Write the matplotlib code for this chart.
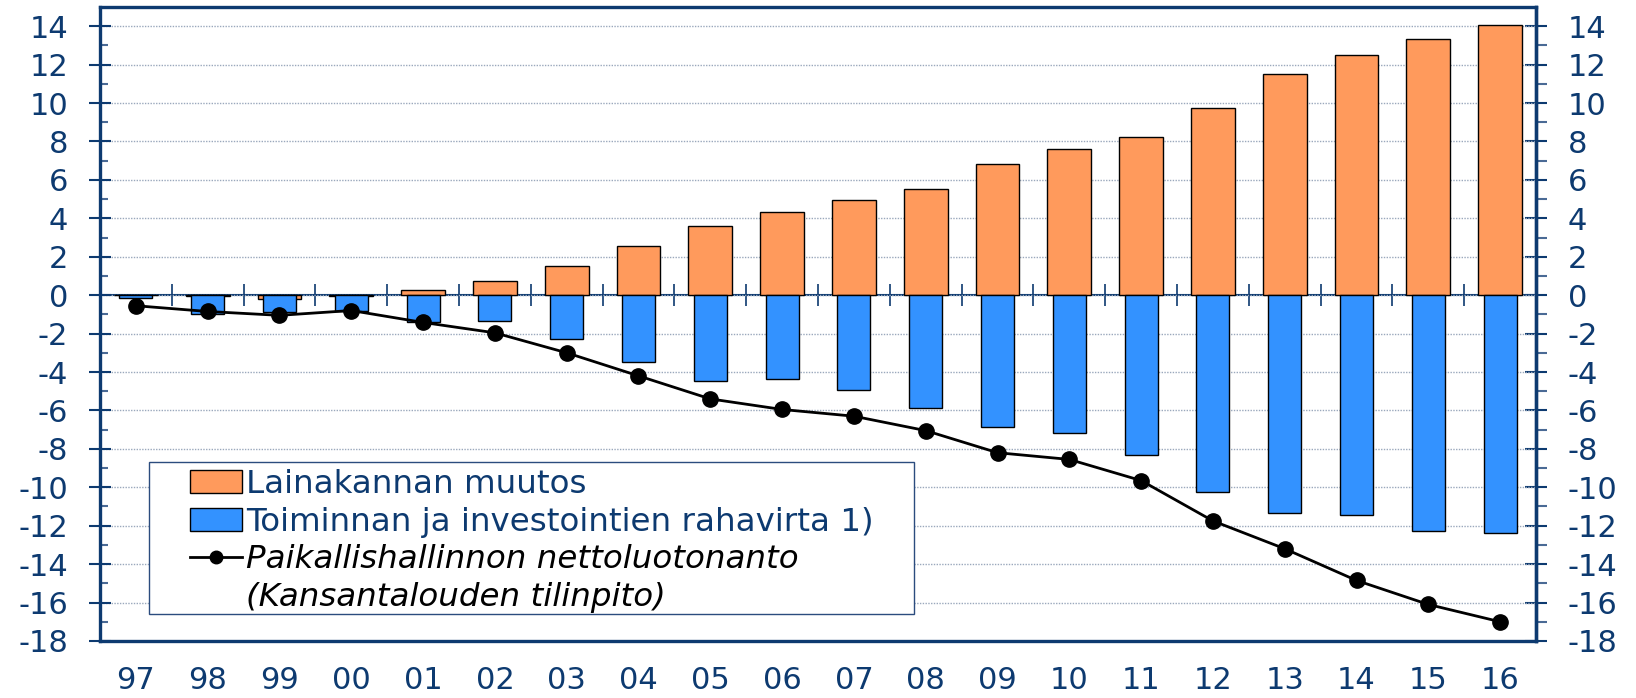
import numpy as np
import matplotlib.pyplot as plt
from matplotlib.patches import Rectangle, Patch
from matplotlib.lines import Line2D

plt.rcParams['axes.unicode_minus'] = False
plt.rcParams['font.family'] = 'DejaVu Sans'

years = ['97', '98', '99', '00', '01', '02', '03', '04', '05', '06',
         '07', '08', '09', '10', '11', '12', '13', '14', '15', '16']
lainakanta = [0.0, -0.05, -0.2, -0.05, 0.25, 0.75, 1.5, 2.55, 3.6, 4.35,
              4.95, 5.55, 6.85, 7.6, 8.25, 9.75, 11.5, 12.5, 13.35, 14.05]
rahavirta = [-0.15, -1.0, -0.9, -0.85, -1.4, -1.35, -2.3, -3.5, -4.45, -4.35,
             -4.95, -5.85, -6.85, -7.15, -8.3, -10.25, -11.35, -11.45, -12.3, -12.4]
nettoluotonanto = [-0.55, -0.85, -1.05, -0.8, -1.42, -1.96, -3.0, -4.2, -5.4, -5.95,
                   -6.3, -7.05, -8.2, -8.55, -9.65, -11.75, -13.2, -14.85, -16.1, -17.0]

labels = ['Lainakannan muutos',
          'Toiminnan ja investointien rahavirta 1)',
          'Paikallishallinnon nettoluotonanto',
          '(Kansantalouden tilinpito)']

dark = '#0D3A70'
orange = '#FF9A5C'
blue = '#3392FF'
ymin, ymax = -18, 15

fig = plt.figure(figsize=(16.36, 6.98), dpi=100)
ax = fig.add_axes([0.0611, 0.0817, 0.8778, 0.9083])

x = np.arange(len(years))
ax.bar(x, lainakanta, width=0.61, color=orange, edgecolor='black', linewidth=1.0, zorder=2)
ax.bar(x, rahavirta, width=0.46, color=blue, edgecolor='black', linewidth=1.0, zorder=2.1)
ax.plot(x, nettoluotonanto, color='black', lw=2.0, marker='o', markersize=11, zorder=3)

ax.set_xlim(-0.5, len(years) - 0.5)
ax.set_ylim(ymin, ymax)

# y axis, left
ax.set_yticks(np.arange(-18, 15, 2))
ax.set_yticks(np.arange(-17, 15, 2), minor=True)
ax.tick_params(axis='y', which='major', direction='inout', length=16, width=1.5,
               colors=dark, labelsize=22, pad=15)
ax.tick_params(axis='y', which='minor', direction='in', length=6, width=1.5, color='#4A6A95')
ax.yaxis.grid(True, which='major', linestyle=(0, (1, 1)), color='#9AA8BC', linewidth=1.0)
ax.set_axisbelow(True)

# y axis, right
sec = ax.secondary_yaxis('right')
sec.set_yticks(np.arange(-18, 15, 2))
sec.set_yticks(np.arange(-17, 15, 2), minor=True)
sec.tick_params(axis='y', which='major', direction='inout', length=16, width=1.5,
                colors=dark, labelsize=22, pad=15)
sec.tick_params(axis='y', which='minor', direction='out', length=8, width=1.5, color='#4A6A95')
sec.spines['right'].set_color(dark)
sec.spines['right'].set_linewidth(2.4)

# x axis labels
ax.set_xticks(x, years)
ax.tick_params(axis='x', length=0, labelsize=22, labelcolor=dark, pad=18)

# zero line with category separators
zero = (0 - ymin) / (ymax - ymin)
sx = ax.secondary_xaxis(zero)
sx.set_xticks(x[:-1] + 0.5)
sx.set_xticklabels([])
sx.tick_params(axis='x', direction='inout', length=16, width=1.2, color=dark,
               labelbottom=False, labeltop=False)
for s in sx.spines.values():
    s.set_color(dark)
    s.set_linewidth(1.5)

for s in ax.spines.values():
    s.set_color(dark)
    s.set_linewidth(2.4)

# legend
ax.add_patch(Rectangle((0.0341, 0.0426), 0.533, 0.239, transform=ax.transAxes,
                       facecolor='white', edgecolor='#2B4C7E', linewidth=1.0, zorder=4))
handles = [Patch(facecolor=orange, edgecolor='black', linewidth=1.0),
           Patch(facecolor=blue, edgecolor='black', linewidth=1.0),
           Line2D([], [], color='black', lw=2.0, marker='o', markersize=9),
           Line2D([], [], color='none')]
leg = ax.legend(handles, labels, loc='upper left', bbox_to_anchor=(0.0627, 0.271),
                frameon=False, fontsize=23.4, borderpad=0, borderaxespad=0,
                handlelength=1.6, handletextpad=0.13, labelspacing=0.2)
leg.set_zorder(5)
for t in leg.get_texts()[:2]:
    t.set_color(dark)
for t in leg.get_texts()[2:]:
    t.set_color('black')
    t.set_style('italic')

fig.savefig('out.png', dpi=100)
